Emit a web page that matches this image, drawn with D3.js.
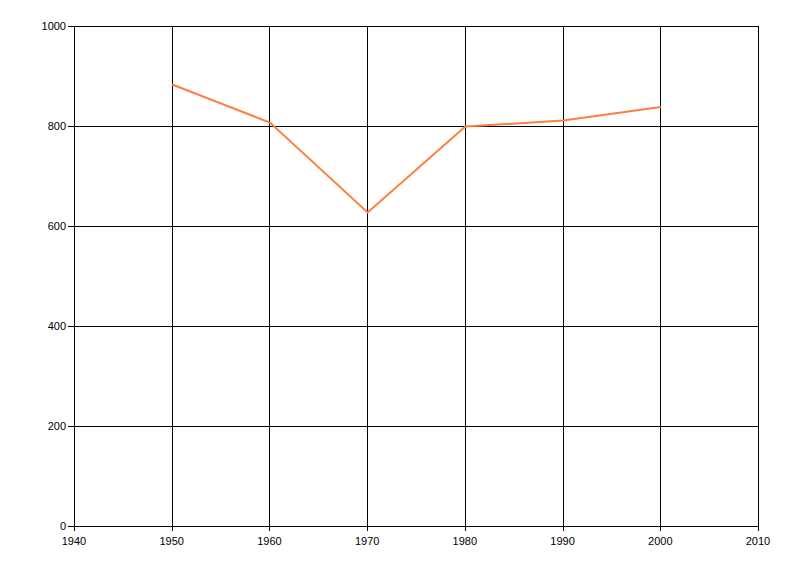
<!DOCTYPE html>
<html><head><meta charset="utf-8">
<script src="https://cdn.jsdelivr.net/npm/d3@7"></script>
<style>body{margin:0;background:#fff}svg{display:block}text{font-family:"Liberation Sans",Arial,sans-serif;font-size:11px;fill:#000}</style>
</head><body>
<svg id="c" width="800" height="576"></svg>
<script>
const years = [1950, 1960, 1970, 1980, 1990, 2000];
const values = [884, 808, 628, 800, 812, 839];
const xTicks = [1940, 1950, 1960, 1970, 1980, 1990, 2000, 2010];
const yTicks = [0, 200, 400, 600, 800, 1000];

const svg = d3.select("#c");
const m = {l: 74, t: 26, r: 758, b: 526};
const x = d3.scaleLinear().domain([1940, 2010]).range([m.l, m.r]);
const y = d3.scaleLinear().domain([0, 1000]).range([m.b, m.t]);

// grid
svg.append("g").selectAll("line").data(xTicks).join("line")
  .attr("x1", d => Math.round(x(d)) + 0.5).attr("x2", d => Math.round(x(d)) + 0.5)
  .attr("y1", m.t).attr("y2", m.b + 5).attr("stroke", "#000");
svg.append("g").selectAll("line").data(yTicks).join("line")
  .attr("y1", d => Math.round(y(d)) + 0.5).attr("y2", d => Math.round(y(d)) + 0.5)
  .attr("x1", m.l - 6).attr("x2", m.r + 1).attr("stroke", "#000");

svg.append("g").selectAll("text").data(yTicks).join("text")
  .attr("x", m.l - 8).attr("y", d => y(d) + 0.5).attr("dy", "0.35em")
  .attr("text-anchor", "end").text(d => d);
svg.append("g").selectAll("text").data(xTicks).join("text")
  .attr("x", d => x(d)).attr("y", m.b + 19)
  .attr("text-anchor", "middle").text(d => d);

const line = d3.line().x((d, i) => x(years[i]) + 0.5).y(d => y(d) + 0.5);
svg.append("path").datum(values).attr("d", line)
  .attr("fill", "none").attr("stroke", "#FF7F40").attr("stroke-width", 2);
</script>
</body></html>
